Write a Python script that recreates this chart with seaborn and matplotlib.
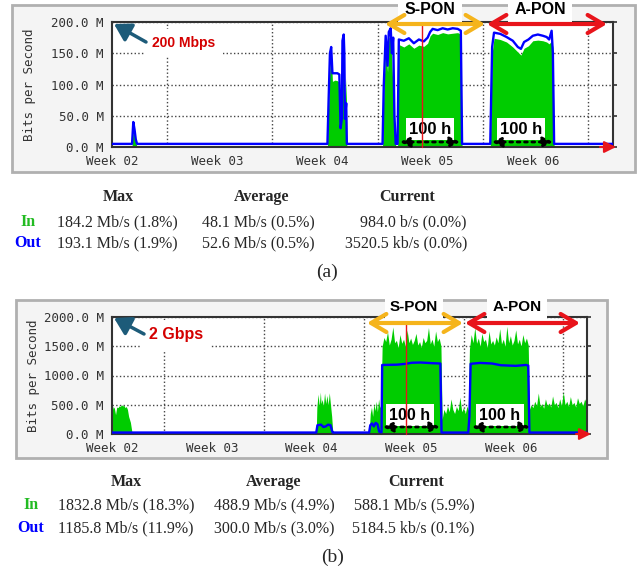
import seaborn as sns
import matplotlib.pyplot as plt
from matplotlib.patches import Rectangle, FancyArrowPatch
from matplotlib.lines import Line2D

# ---------------------------------------------------
# Data (hours since start of Week 02, Mbit/s)
# ---------------------------------------------------

week_labels = ["Week 02", "Week 03", "Week 04", "Week 05", "Week 06"]
week_label_hours = [0, 168, 336, 504, 672]
week_grid_hours = [88, 256, 424, 592, 760]

# panel (a): 200 Mbps link
a_hours = [0, 32, 34, 36, 38, 40, 344, 346, 348, 350, 352, 356, 360, 363, 365, 367,
           368, 370, 371, 372, 374, 375, 432, 434, 437, 440, 442, 445, 447, 449, 451,
           453, 456, 458, 466, 474, 482, 490, 498, 504, 508, 512, 520, 528, 536, 544,
           552, 557, 559, 604, 607, 610, 620, 630, 640, 648, 653, 658, 665, 672, 680,
           688, 694, 698, 702, 704, 706, 800]
a_in = [1, 1, 35, 18, 6, 1, 1, 70, 130, 150, 105, 107, 106, 104, 40, 60,
        155, 171, 140, 50, 110, 1, 1, 90, 160, 120, 175, 178, 130, 90, 30,
        1, 1, 164, 160, 165, 158, 163, 161, 166, 178, 182, 180, 183, 181, 182,
        183, 180, 1, 1, 150, 174, 172, 168, 160, 152, 147, 158, 162, 170, 171,
        170, 168, 165, 170, 160, 1, 1]
a_out = [5, 5, 40, 28, 12, 5, 5, 80, 150, 160, 118, 118, 118, 116, 30, 45,
         170, 180, 150, 45, 70, 5, 5, 100, 178, 130, 184, 190, 150, 175, 50,
         5, 5, 172, 170, 174, 166, 172, 169, 175, 184, 189, 187, 190, 188, 190,
         189, 186, 5, 5, 160, 183, 181, 176, 170, 160, 157, 168, 172, 178, 180,
         178, 176, 172, 186, 150, 5, 5]

# panel (b): 2 Gbps link
b_in_hours = [0, 2, 4, 6, 8, 10, 12, 14, 16, 18, 20, 22, 24, 26, 28, 31, 34,
              344, 345, 347, 349, 351, 352, 354, 356, 358, 360, 362, 364, 366, 368, 370, 372,
              433, 435, 437, 439, 441, 443, 445, 447, 449, 451, 453,
              455, 458, 461, 464, 467, 470, 473, 476, 479, 482, 485, 488, 491, 494, 497,
              500, 503, 506, 509, 512, 515, 518, 521, 524, 527, 530, 533, 536, 539, 542,
              545, 548, 551, 554,
              556, 559, 562, 565, 568, 571, 574, 577, 580, 583, 586, 589, 592, 595, 598, 600,
              602, 605, 608, 611, 614, 617, 620, 623, 626, 629, 632, 635, 638, 641, 644,
              647, 650, 653, 656, 659, 662, 665, 668, 671, 674, 677, 680, 683, 686, 689,
              692, 695, 698, 701,
              703, 706, 709, 712, 715, 718, 721, 724, 727, 730, 733, 736, 739, 742, 745,
              748, 751, 754, 757, 760, 763, 766, 769, 772, 775, 778, 781, 784, 787, 790,
              793, 796, 800]
b_in = [380, 470, 440, 330, 460, 450, 480, 470, 500, 480, 490, 450, 470, 420, 300, 200, 5,
        5, 450, 680, 480, 718, 520, 590, 480, 700, 520, 660, 500, 705, 500, 300, 5,
        5, 350, 460, 300, 520, 400, 560, 380, 600, 450, 500,
        1500, 1650, 1580, 1750, 1520, 1620, 1830, 1560, 1600, 1480, 1700, 1550, 1620, 1500, 1780,
        1560, 1640, 1530, 1600, 1720, 1520, 1580, 1480, 1650, 1560, 1600, 1820, 1540, 1620, 1500,
        1760, 1580, 1640, 1500,
        250, 420, 350, 480, 380, 600, 420, 350, 470, 400, 630, 380, 450, 350, 480, 400,
        1450, 1700, 1560, 1820, 1550, 1640, 1500, 1720, 1580, 1620, 1480, 1760, 1540, 1600, 1520,
        1660, 1560, 1800, 1540, 1620, 1500, 1840, 1560, 1680, 1520, 1600, 1780, 1540, 1620, 1500,
        1700, 1560, 1640, 1520,
        420, 500, 450, 560, 480, 700, 470, 520, 440, 600, 480, 530, 460, 650, 500,
        540, 450, 600, 480, 720, 500, 560, 470, 640, 500, 540, 460, 620, 520, 560,
        480, 600, 500]
b_out_hours = [0, 344, 346, 352, 356, 360, 364, 368, 371, 372, 433, 435, 438, 441, 444,
               447, 450, 454, 455, 480, 495, 505, 520, 540, 553, 555, 600, 602, 604, 620,
               640, 655, 680, 697, 701, 703, 800]
b_out = [25, 25, 150, 160, 120, 130, 160, 150, 40, 25, 25, 150, 180, 130, 190,
         170, 40, 30, 1180, 1185, 1200, 1218, 1222, 1210, 1205, 25, 25, 300, 1200, 1215,
         1205, 1175, 1165, 1180, 1170, 25, 25]

# summary tables
table_cols = ["Max", "Average", "Current"]
a_in_stats = ["184.2 Mb/s (1.8%)", "48.1 Mb/s (0.5%)", "984.0 b/s (0.0%)"]
a_out_stats = ["193.1 Mb/s (1.9%)", "52.6 Mb/s (0.5%)", "3520.5 kb/s (0.0%)"]
b_in_stats = ["1832.8 Mb/s (18.3%)", "488.9 Mb/s (4.9%)", "588.1 Mb/s (5.9%)"]
b_out_stats = ["1185.8 Mb/s (11.9%)", "300.0 Mb/s (3.0%)", "5184.5 kb/s (0.1%)"]

IN_COLOR = "#00cc00"
OUT_COLOR = "#0000ff"
TEAL = "#1d5b79"
ORANGE = "#f5b41c"
RED = "#e8141b"

W, H = 639, 570

sns.set_style("white")
plt.rcParams["font.family"] = ["DejaVu Sans Mono"]

fig = plt.figure(figsize=(W / 100, H / 100), dpi=100)


def fx(px):
    return px / W


def fy(py):
    return 1 - py / H


def frame(x0, y0, x1, y1):
    fig.patches.append(Rectangle((fx(x0), fy(y1)), (x1 - x0) / W, (y1 - y0) / H,
                                 transform=fig.transFigure, fc="#f4f4f4",
                                 ec="#b0b0b0", lw=2, zorder=-5))


def panel(box, hours_in, vals_in, hours_out, vals_out, ymax, ylabels):
    x0, y0, x1, y1 = box
    ax = fig.add_axes([fx(x0), fy(y1), (x1 - x0) / W, (y1 - y0) / H])
    ax.set_facecolor("white")
    ax.fill_between(hours_in, vals_in, color=IN_COLOR, lw=0, zorder=2)
    sns.lineplot(x=hours_out, y=vals_out, color=OUT_COLOR, lw=1.7, ax=ax, zorder=3)
    ax.set_xlim(0, 800)
    ax.set_ylim(0, ymax)
    ax.set_xticks(week_label_hours)
    ax.set_xticklabels(week_labels)
    ax.set_xticks(week_grid_hours, minor=True)
    yt = [ymax * i / 4 for i in range(5)]
    ax.set_yticks(yt)
    ax.set_yticklabels(ylabels)
    ax.grid(False)
    ax.xaxis.grid(True, which="minor", ls=":", color="#444444", lw=1)
    ax.yaxis.grid(True, which="major", ls=":", color="#444444", lw=1)
    ax.tick_params(axis="x", which="major", length=0, pad=6, labelsize=9, colors="#333333")
    ax.tick_params(axis="x", which="minor", length=4, width=1.2, color="#333333")
    ax.tick_params(axis="y", length=3, width=1.2, right=True, labelsize=9,
                   colors="#333333", pad=3)
    for s in ax.spines.values():
        s.set_color("#333333")
        s.set_linewidth(1.5)
    ax.set_xlabel("")
    ax.set_ylabel("Bits per Second", fontsize=9, color="#333333")
    ax.yaxis.set_label_coords(-0.152, 0.5)
    return ax


def label(x, y, s, size, color="black", pad=0.25, family="Liberation Sans"):
    fig.text(fx(x), fy(y), s, ha="center", va="center", fontsize=size,
             fontweight="bold", color=color, family=family,
             bbox=dict(boxstyle=f"square,pad={pad}", fc="white", ec="none"))


def arrow(xa, ya, xb, yb, style, color, lw, ls="-"):
    fig.add_artist(FancyArrowPatch((fx(xa), fy(ya)), (fx(xb), fy(yb)),
                                   transform=fig.transFigure, arrowstyle=style,
                                   color=color, lw=lw, ls=ls, mutation_scale=10,
                                   shrinkA=0, shrinkB=0, zorder=6))


def vline(x, ya, yb):
    fig.add_artist(Line2D([fx(x), fx(x)], [fy(ya), fy(yb)], transform=fig.transFigure,
                          color=RED, lw=1, zorder=6))


def table(rows_y, head_x, col_x, right_x, side_x, in_stats, out_stats, tag, tag_xy):
    serif = "Liberation Serif"
    for name, x in zip(table_cols, head_x):
        fig.text(fx(x), fy(rows_y[0]), name, ha="center", va="center", fontsize=11.5,
                 fontweight="bold", family=serif)
    fig.text(fx(side_x), fy(rows_y[1]), "In", ha="center", va="center", fontsize=11.5,
             fontweight="bold", color="#22bb22", family=serif)
    fig.text(fx(side_x), fy(rows_y[2]), "Out", ha="center", va="center", fontsize=11.5,
             fontweight="bold", color=OUT_COLOR, family=serif)
    for stats, y in [(in_stats, rows_y[1]), (out_stats, rows_y[2])]:
        fig.text(fx(col_x[0]), fy(y), stats[0], ha="center", va="center", fontsize=11.5, family=serif)
        fig.text(fx(col_x[1]), fy(y), stats[1], ha="center", va="center", fontsize=11.5, family=serif)
        fig.text(fx(right_x), fy(y), stats[2], ha="right", va="center", fontsize=11.5, family=serif)
    fig.text(fx(tag_xy[0]), fy(tag_xy[1]), tag, ha="center", va="center", fontsize=14, family=serif)


# ---------------------------------------------------
# Panel (a)
# ---------------------------------------------------

frame(12, 5, 635, 172)
panel((112, 22, 613, 147), a_hours, a_in, a_hours, a_out, 200,
      ["0.0 M", "50.0 M", "100.0 M", "150.0 M", "200.0 M"])

vline(422, 24, 147)
arrow(385, 24, 485, 24, "<->,head_length=1.1,head_width=0.65", ORANGE, 3)
arrow(487, 24, 607, 24, "<->,head_length=1.1,head_width=0.65", RED, 3)
arrow(600, 147, 616, 147, "-|>,head_length=0.7,head_width=0.35", RED, 1.5)
label(430, 9, "S-PON", 11.5, pad=0.4)
label(540, 9, "A-PON", 11.5, pad=0.4)
arrow(400, 142, 460, 142, "<|-|>,head_length=0.6,head_width=0.3", "black", 2, ":")
arrow(492, 142, 553, 142, "<|-|>,head_length=0.6,head_width=0.3", "black", 2, ":")
label(430, 129, "100 h", 12, pad=0.2)
label(521, 129, "100 h", 12, pad=0.2)
arrow(146, 42, 114, 24, "-|>,head_length=1.0,head_width=0.6", TEAL, 2.5)
label(184, 43, "200 Mbps", 10, color="#d40000", pad=0.5)

table([197, 222, 243], [118, 262, 407], [117, 258], 467, 28,
      a_in_stats, a_out_stats, "(a)", (327, 272))

# ---------------------------------------------------
# Panel (b)
# ---------------------------------------------------

frame(16, 300, 607, 458)
panel((112, 317, 587, 434), b_in_hours, b_in, b_out_hours, b_out, 2000,
      ["0.0 M", "500.0 M", "1000.0 M", "1500.0 M", "2000.0 M"])

vline(406, 323, 434)
arrow(367, 323, 463, 323, "<->,head_length=1.1,head_width=0.65", ORANGE, 3)
arrow(465, 323, 580, 323, "<->,head_length=1.1,head_width=0.65", RED, 3)
arrow(576, 434, 591, 434, "-|>,head_length=0.7,head_width=0.35", RED, 1.5)
label(414, 307, "S-PON", 11, pad=0.35)
label(517, 307, "A-PON", 11, pad=0.35)
arrow(383, 427, 440, 427, "<|-|>,head_length=0.6,head_width=0.3", "black", 2, ":")
arrow(472, 427, 530, 427, "<|-|>,head_length=0.6,head_width=0.3", "black", 2, ":")
label(410, 415, "100 h", 11.5, pad=0.2)
label(500, 415, "100 h", 11.5, pad=0.2)
arrow(144, 334, 114, 318, "-|>,head_length=1.0,head_width=0.6", TEAL, 2.5)
label(176, 335, "2 Gbps", 11.5, color="#d40000", pad=0.5)

table([482, 505, 528], [126, 274, 416], [126, 274], 475, 31,
      b_in_stats, b_out_stats, "(b)", (333, 557))

fig.savefig("out.png", dpi=100, facecolor="white")
